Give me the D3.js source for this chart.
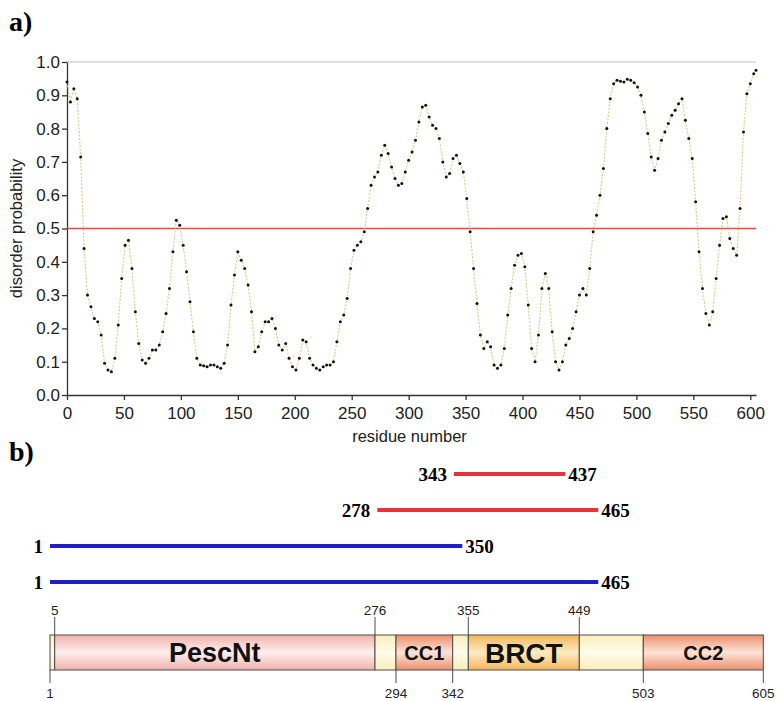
<!DOCTYPE html>
<html>
<head>
<meta charset="utf-8">
<title>Disorder profile and constructs</title>
<script src="https://cdn.jsdelivr.net/npm/d3@7"></script>
<style>
  body { margin: 0; background: #fff; }
  svg { display: block; }
  .axis path, .axis line { stroke: #333; stroke-width: 1.3; }
  .axis text { font-family: "Liberation Sans", Arial, sans-serif; font-size: 17px; fill: #222; }
</style>
</head>
<body>
<script>
const w = 777;
const h = 701;

// a) disorder probability, read every 3 residues (0..603) plus residue 605
const disorder = [
  0.94, 0.88, 0.92, 0.89, 0.715, 0.44, 0.30, 0.265, 0.23, 0.22,
  0.18, 0.095, 0.075, 0.07, 0.11, 0.21, 0.35, 0.45, 0.465, 0.38,
  0.25, 0.155, 0.105, 0.095, 0.11, 0.135, 0.135, 0.15, 0.19, 0.245,
  0.32, 0.43, 0.525, 0.51, 0.45, 0.37, 0.28, 0.19, 0.11, 0.09,
  0.088, 0.085, 0.09, 0.09, 0.085, 0.08, 0.095, 0.15, 0.27, 0.36,
  0.43, 0.405, 0.38, 0.33, 0.25, 0.13, 0.145, 0.19, 0.22, 0.22,
  0.23, 0.20, 0.15, 0.135, 0.155, 0.11, 0.085, 0.075, 0.11, 0.165,
  0.16, 0.11, 0.09, 0.08, 0.075, 0.085, 0.09, 0.09, 0.10, 0.16,
  0.22, 0.24, 0.29, 0.38, 0.435, 0.45, 0.46, 0.49, 0.56, 0.63,
  0.655, 0.67, 0.72, 0.75, 0.725, 0.685, 0.65, 0.63, 0.635, 0.67,
  0.705, 0.73, 0.765, 0.82, 0.865, 0.87, 0.835, 0.81, 0.80, 0.77,
  0.70, 0.655, 0.665, 0.71, 0.72, 0.695, 0.67, 0.59, 0.49, 0.38,
  0.275, 0.18, 0.14, 0.16, 0.145, 0.09, 0.08, 0.09, 0.14, 0.24,
  0.32, 0.39, 0.42, 0.425, 0.385, 0.27, 0.14, 0.10, 0.18, 0.32,
  0.365, 0.32, 0.19, 0.10, 0.075, 0.10, 0.15, 0.17, 0.20, 0.25,
  0.30, 0.32, 0.30, 0.38, 0.49, 0.54, 0.60, 0.68, 0.80, 0.89,
  0.935, 0.945, 0.942, 0.94, 0.948, 0.945, 0.938, 0.925, 0.90, 0.85,
  0.785, 0.715, 0.675, 0.71, 0.765, 0.79, 0.815, 0.84, 0.855, 0.875,
  0.89, 0.825, 0.77, 0.71, 0.58, 0.43, 0.32, 0.245, 0.21, 0.25,
  0.35, 0.45, 0.53, 0.535, 0.47, 0.44, 0.42, 0.56, 0.79, 0.905,
  0.935, 0.965,
  0.975
];
const residues = d3.range(0, 604, 3).concat([605]);
const threshold = 0.5;
const xTicks = d3.range(0, 601, 50);
const yTicks = d3.range(0, 11).map(d => d / 10);

// b) domain map and constructs
const bounds = [1, 5, 276, 294, 342, 355, 449, 503, 605];
const segName = ["", "PescNt", "", "CC1", "", "BRCT", "", "CC2"];
const segKind = ["linker", "pesc", "linker", "cc", "linker", "brct", "linker", "cc"];
const topMarks = [5, 276, 355, 449];
const bottomMarks = [1, 294, 342, 503, 605];
const fragStart = [343, 278, 1, 1];
const fragEnd = [437, 465, 350, 465];
const fragKind = ["red", "red", "blue", "blue"];

const svg = d3.select("body")
  .append("svg")
  .attr("width", w)
  .attr("height", h);

const serif = "'Liberation Serif', 'Times New Roman', serif";
const sans = "'Liberation Sans', Arial, sans-serif";

// ---------------- a) ----------------
const plot = { left: 67, right: 756, top: 62, bottom: 395 };

const x = d3.scaleLinear().domain([0, 605]).range([plot.left, plot.right]);
const y = d3.scaleLinear().domain([0, 1]).range([plot.bottom, plot.top]);

svg.append("text")
  .attr("x", 9).attr("y", 31)
  .attr("font-family", serif).attr("font-weight", "bold").attr("font-size", 28)
  .text("a)");

// top line at 1.0
svg.append("line")
  .attr("x1", x(0)).attr("x2", x(605))
  .attr("y1", y(1)).attr("y2", y(1))
  .attr("stroke", "#bdbdbd").attr("stroke-width", 1.2);

svg.append("g")
  .attr("class", "axis")
  .attr("transform", `translate(${plot.left},0)`)
  .call(d3.axisLeft(y).tickValues(yTicks).tickFormat(d3.format(".1f"))
    .tickSize(5).tickSizeOuter(0).tickPadding(2));

svg.append("g")
  .attr("class", "axis")
  .attr("transform", `translate(0,${plot.bottom})`)
  .call(d3.axisBottom(x).tickValues(xTicks).tickSize(5).tickSizeOuter(0).tickPadding(7));

// threshold
svg.append("line")
  .attr("x1", x(0)).attr("x2", x(605))
  .attr("y1", y(threshold)).attr("y2", y(threshold))
  .attr("stroke", "#e8474a").attr("stroke-width", 1.6);

const pts = residues.map((r, i) => [r, disorder[i]]);

svg.append("path")
  .datum(pts)
  .attr("fill", "none")
  .attr("stroke", "#d2cc86")
  .attr("stroke-width", 1.1)
  .attr("stroke-dasharray", "2,1.5")
  .attr("d", d3.line().x(d => x(d[0])).y(d => y(d[1])));

svg.append("g")
  .selectAll("circle")
  .data(pts)
  .enter()
  .append("circle")
  .attr("cx", d => x(d[0]))
  .attr("cy", d => y(d[1]))
  .attr("r", 1.5)
  .attr("fill", "#111");

svg.append("text")
  .attr("transform", `translate(22,${y(0.5)}) rotate(-90)`)
  .attr("text-anchor", "middle")
  .attr("font-family", sans).attr("font-size", 16.5).attr("fill", "#222")
  .text("disorder probability");

svg.append("text")
  .attr("x", (plot.left + plot.right) / 2 - 2).attr("y", 442)
  .attr("text-anchor", "middle")
  .attr("font-family", sans).attr("font-size", 16.5).attr("fill", "#222")
  .text("residue number");

// ---------------- b) ----------------
svg.append("text")
  .attr("x", 9).attr("y", 461)
  .attr("font-family", serif).attr("font-weight", "bold").attr("font-size", 28)
  .text("b)");

// the domain map is a schematic, not drawn to scale
const xs = d3.scaleLinear()
  .domain(bounds)
  .range([50, 54.7, 375, 396, 452.7, 468.3, 579.3, 643.3, 763.3]);

const rowY = d3.scalePoint().domain(d3.range(fragStart.length)).range([474, 582]);
const fragColor = { red: "#e2343a", blue: "#1f1fc6" };

const frags = fragStart.map((s, i) => ({ s: s, e: fragEnd[i], kind: fragKind[i], row: i }));

const fg = svg.append("g");
fg.selectAll("line")
  .data(frags)
  .enter()
  .append("line")
  .attr("x1", d => xs(d.s)).attr("x2", d => xs(d.e))
  .attr("y1", d => rowY(d.row)).attr("y2", d => rowY(d.row))
  .attr("stroke", d => fragColor[d.kind])
  .attr("stroke-width", 4);

fg.selectAll("text.start")
  .data(frags)
  .enter()
  .append("text")
  .attr("class", "start")
  .attr("x", d => xs(d.s) - 7)
  .attr("y", d => rowY(d.row) + 7)
  .attr("text-anchor", "end")
  .attr("font-family", serif).attr("font-weight", "bold").attr("font-size", 19)
  .text(d => d.s);

fg.selectAll("text.end")
  .data(frags)
  .enter()
  .append("text")
  .attr("class", "end")
  .attr("x", d => xs(d.e) + 3)
  .attr("y", d => rowY(d.row) + 7)
  .attr("font-family", serif).attr("font-weight", "bold").attr("font-size", 19)
  .text(d => d.e);

// gradients for the domain boxes
const fills = {
  linker: ["#fbeebd", "#fffbe9"],
  pesc: ["#f2b2ab", "#fdeeed"],
  cc: ["#ec8f6c", "#fde4d8"],
  brct: ["#f3b65a", "#fdebc2"]
};
const defs = svg.append("defs");
Object.keys(fills).forEach(k => {
  const g = defs.append("linearGradient")
    .attr("id", "grad-" + k)
    .attr("x1", 0).attr("y1", 0).attr("x2", 0).attr("y2", 1);
  g.append("stop").attr("offset", "0%").attr("stop-color", fills[k][0]);
  g.append("stop").attr("offset", "50%").attr("stop-color", fills[k][1]);
  g.append("stop").attr("offset", "100%").attr("stop-color", fills[k][0]);
});

const barTop = 635;
const barH = 35;
const segs = segName.map((n, i) => ({ s: bounds[i], e: bounds[i + 1], name: n, kind: segKind[i] }));

const bar = svg.append("g");
bar.selectAll("rect")
  .data(segs)
  .enter()
  .append("rect")
  .attr("x", d => xs(d.s))
  .attr("y", barTop)
  .attr("width", d => xs(d.e) - xs(d.s))
  .attr("height", barH)
  .attr("fill", d => "url(#grad-" + d.kind + ")")
  .attr("stroke", "#4d4d4d")
  .attr("stroke-width", 1);

const labelSize = { PescNt: 27, CC1: 20, BRCT: 28, CC2: 20 };
bar.selectAll("text")
  .data(segs.filter(d => d.name))
  .enter()
  .append("text")
  .attr("x", d => (xs(d.s) + xs(d.e)) / 2)
  .attr("y", d => barTop + barH / 2 + labelSize[d.name] * 0.36)
  .attr("text-anchor", "middle")
  .attr("font-family", sans).attr("font-weight", "bold")
  .attr("font-size", d => labelSize[d.name])
  .attr("fill", "#111")
  .text(d => d.name);

// position marks above and below the map
const marks = svg.append("g");
marks.selectAll("line.top")
  .data(topMarks)
  .enter()
  .append("line")
  .attr("class", "top")
  .attr("x1", d => xs(d)).attr("x2", d => xs(d))
  .attr("y1", barTop - 18).attr("y2", barTop)
  .attr("stroke", "#4d4d4d").attr("stroke-width", 1);

marks.selectAll("text.top")
  .data(topMarks)
  .enter()
  .append("text")
  .attr("class", "top")
  .attr("x", d => xs(d)).attr("y", barTop - 20)
  .attr("text-anchor", "middle")
  .attr("font-family", sans).attr("font-size", 13.5).attr("fill", "#222")
  .text(d => d);

marks.selectAll("line.bottom")
  .data(bottomMarks)
  .enter()
  .append("line")
  .attr("class", "bottom")
  .attr("x1", d => xs(d)).attr("x2", d => xs(d))
  .attr("y1", barTop + barH).attr("y2", barTop + barH + 13)
  .attr("stroke", "#4d4d4d").attr("stroke-width", 1);

marks.selectAll("text.bottom")
  .data(bottomMarks)
  .enter()
  .append("text")
  .attr("class", "bottom")
  .attr("x", d => xs(d)).attr("y", barTop + barH + 28)
  .attr("text-anchor", "middle")
  .attr("font-family", sans).attr("font-size", 13.5).attr("fill", "#222")
  .text(d => d);
</script>
</body>
